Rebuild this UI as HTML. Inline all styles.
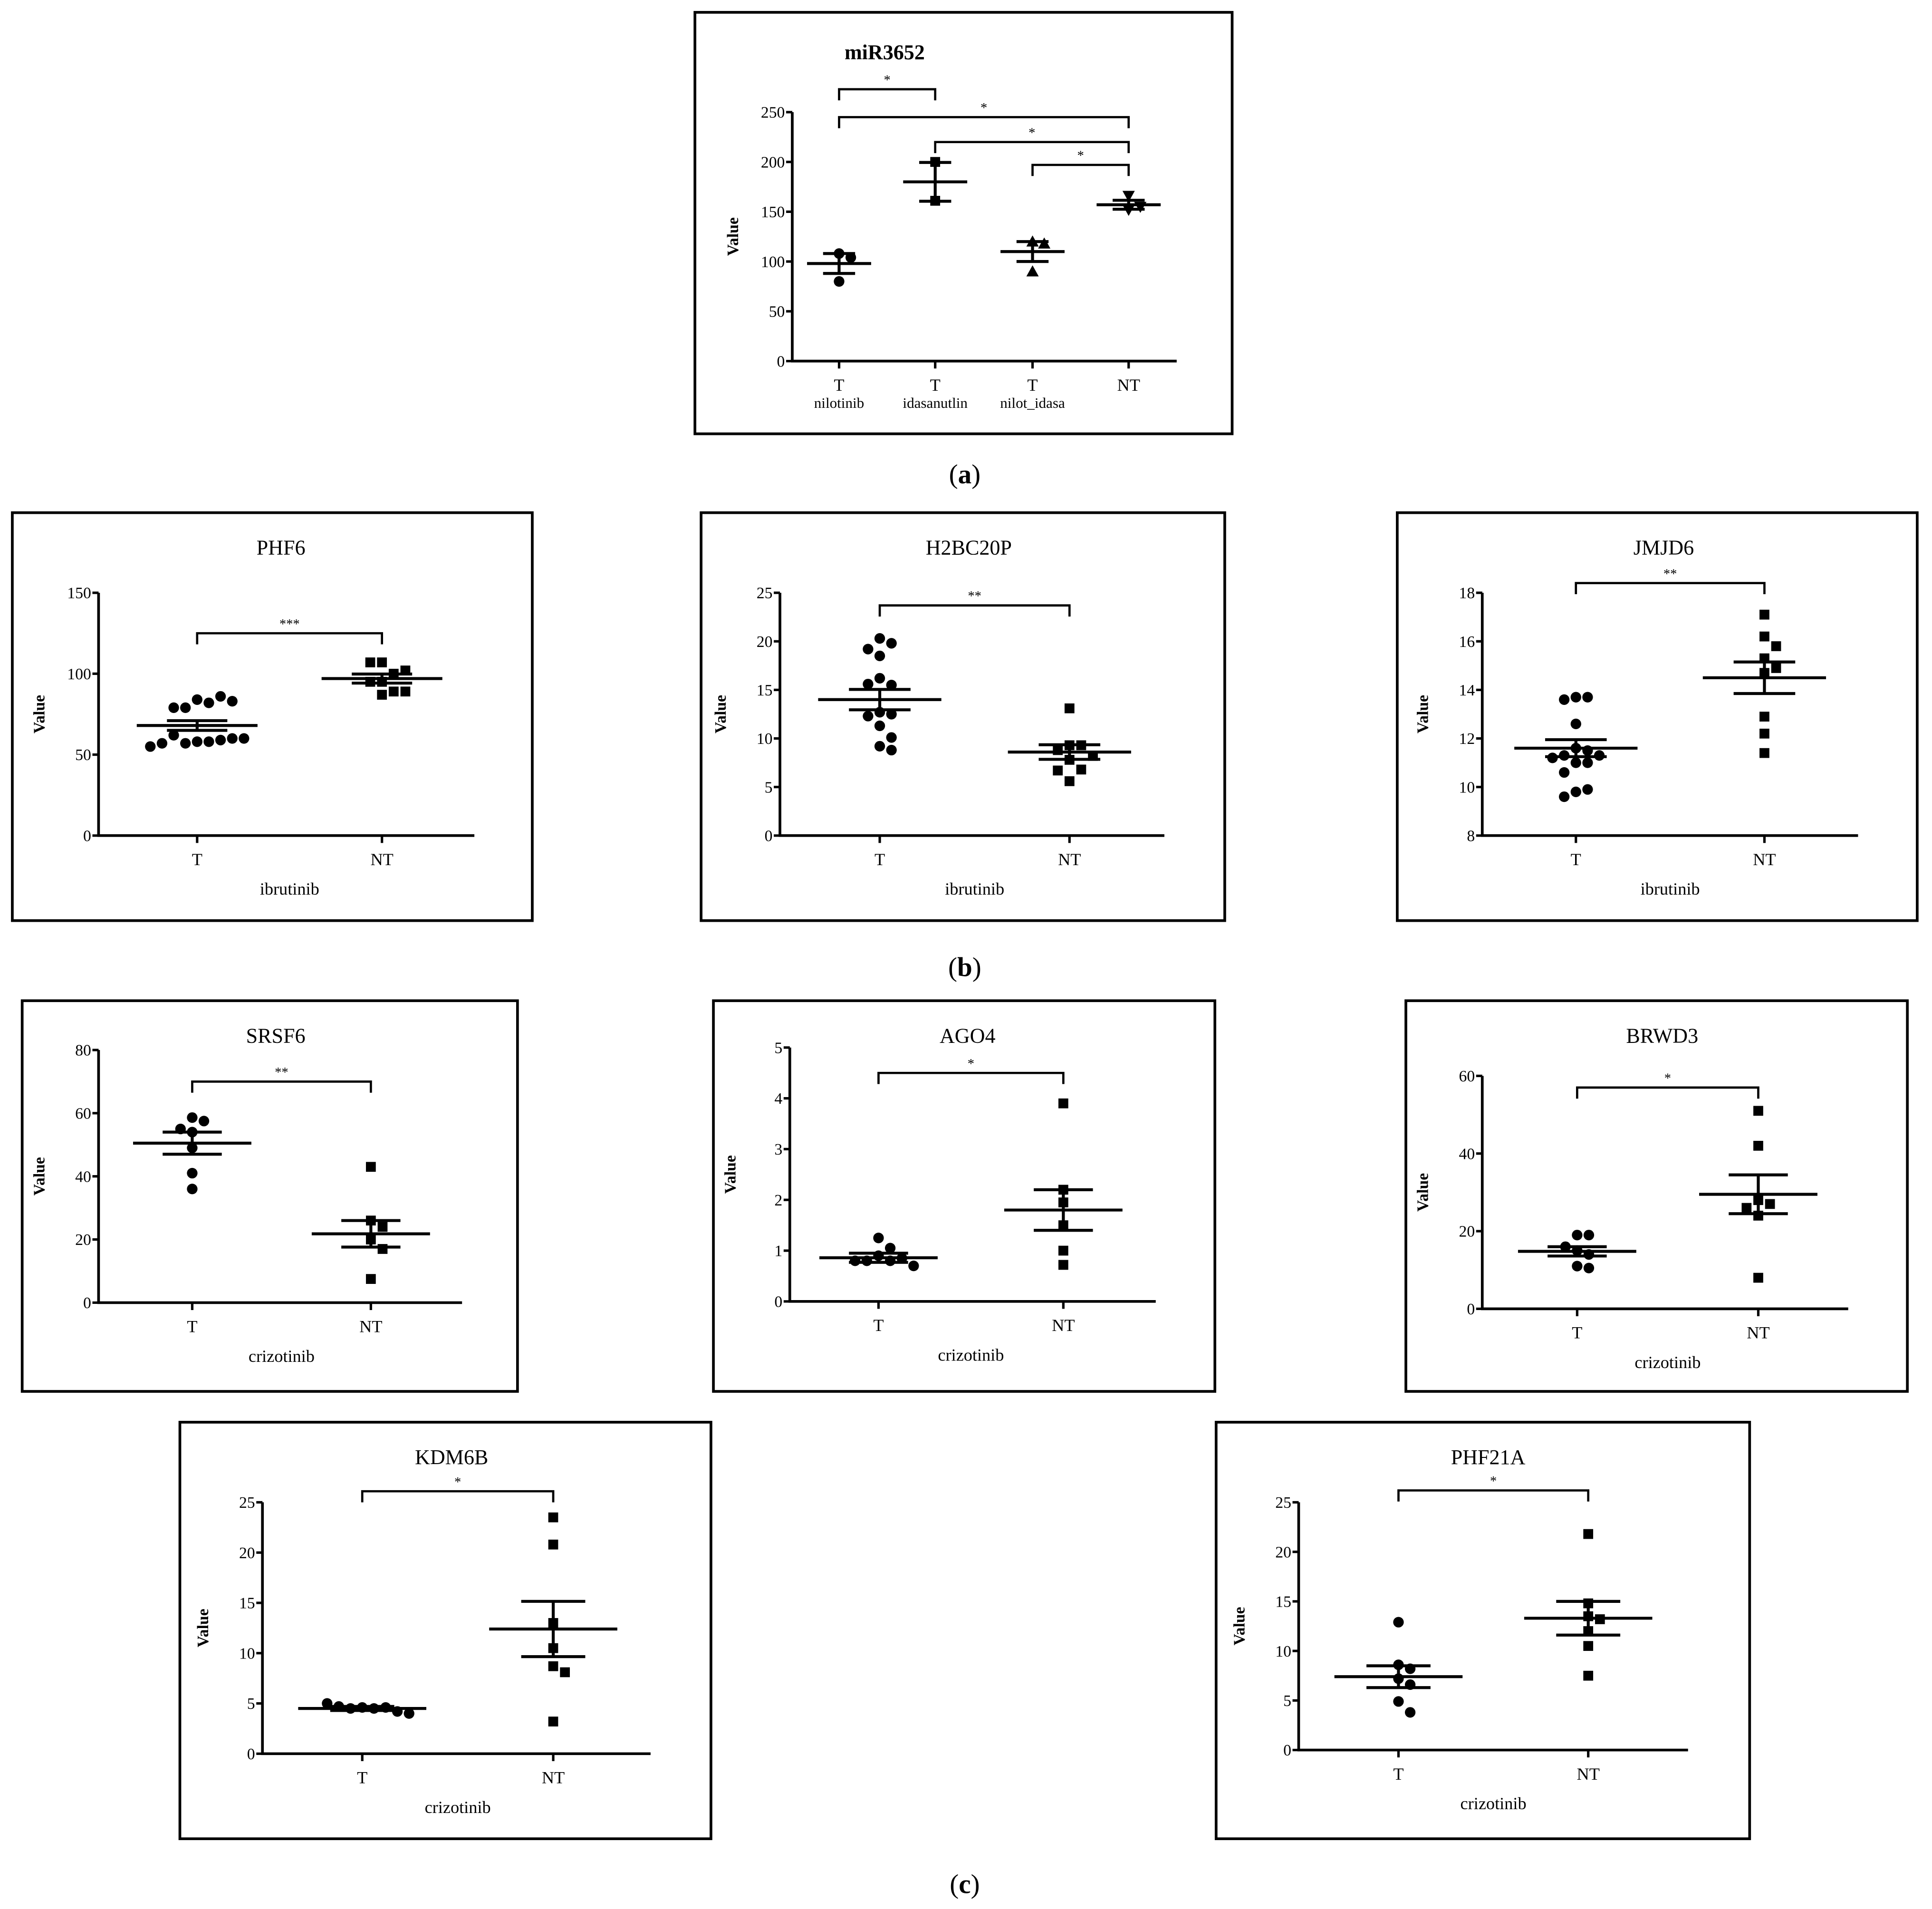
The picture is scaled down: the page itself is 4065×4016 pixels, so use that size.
<!DOCTYPE html>
<html><head><meta charset="utf-8">
<style>
html,body{margin:0;padding:0;background:#fff;}
svg{display:block;}
text{font-family:"Liberation Serif",serif;fill:#000;}
</style></head>
<body>
<svg id="fig" width="4065" height="4016" viewBox="0 0 1568 1549" preserveAspectRatio="none" xmlns="http://www.w3.org/2000/svg"></svg>
<script>
// ---- data ----
const mirCategories = ["nilotinib","idasanutlin","nilot_idasa","NT"];
const mirValues = [[108,104,80],[200,161],[120,118,90],[166,155,152]];
const mirMeans = [98,180,110,157];
const mirSem = [10,19.5,10,4.5];
const mirTicks = [0,50,100,150,200,250];

const phf6T = [84,82,79,86,79,83,58,58,57,59,62,60,57,60,55];
const phf6NT = [95,100,95,107,107,89,89,102,87];
const phf6Stats = [68,3,97,2.8];
const phf6Ticks = [0,50,100,150];

const h2bT = [20.3,19.8,19.2,18.5,16.2,15.5,15.6,12.7,12.5,12.3,11.3,10.1,9.2,8.8];
const h2bNT = [13.1,9.3,9.3,8.8,8.2,7.8,6.8,6.7,5.6];
const h2bStats = [14,1.05,8.6,0.75];
const h2bTicks = [0,5,10,15,20,25];

const jmjT = [13.7,13.7,13.6,12.6,11.6,11.5,11.3,11.3,11.2,11.0,11.0,10.6,9.8,9.9,9.6];
const jmjNT = [17.1,16.2,15.8,15.3,14.9,14.7,12.9,12.2,11.4];
const jmjStats = [11.6,0.35,14.5,0.65];
const jmjTicks = [8,10,12,14,16,18];

const srsfT = [58.6,57.5,55,54,49,41,36];
const srsfNT = [43,26,24,20,17,7.5];
const srsfStats = [50.5,3.5,21.8,4.2];
const srsfTicks = [0,20,40,60,80];

const agoT = [0.9,0.8,0.8,1.05,0.85,0.8,1.25,0.7];
const agoNT = [3.9,2.2,1.95,1.5,1.0,0.72];
const agoStats = [0.86,0.09,1.8,0.4];
const agoTicks = [0,1,2,3,4,5];

const brwT = [19,19,16,15,14,11,10.5];
const brwNT = [51,42,28,27,26,24,8];
const brwStats = [14.8,1.2,29.5,5];
const brwTicks = [0,20,40,60];

const kdmT = [4.6,4.5,4.5,4.6,4.7,4.2,5.0,4.0];
const kdmNT = [23.5,20.8,13,10.5,8.7,8.1,3.2];
const kdmStats = [4.5,0.2,12.4,2.75];
const kdmTicks = [0,5,10,15,20,25];

const phf21T = [12.9,8.6,8.2,7.2,6.6,4.9,3.8];
const phf21NT = [21.8,14.8,13.5,13.2,12.0,10.5,7.5];
const phf21Stats = [7.4,1.1,13.3,1.7];
const phf21Ticks = [0,5,10,15,20,25];

const NS="http://www.w3.org/2000/svg";
const svg=document.getElementById('fig');
function el(tag,attrs,parent,txt){const e=document.createElementNS(NS,tag);for(const k in attrs)e.setAttribute(k,attrs[k]);if(txt!==undefined)e.textContent=txt;(parent||svg).appendChild(e);return e;}
function line(g,x1,y1,x2,y2,w){return el('line',{x1,y1,x2,y2,stroke:'#000','stroke-width':w||2},g);}

function marker(g,shape,x,y){
  let m;
  if(shape==='circle') m=el('circle',{cx:x,cy:y,r:4.3},g);
  else if(shape==='square') m=el('rect',{x:x-4,y:y-4,width:8,height:8},g);
  else if(shape==='tri') m=el('polygon',{points:`${x},${y-5} ${x-5},${y+4} ${x+5},${y+4}`},g);
  else m=el('polygon',{points:`${x},${y+5} ${x-5},${y-4} ${x+5},${y-4}`},g);
  
  
}

function swarm(ys,d){
  const placed=[],xs=[];
  ys.forEach(y=>{
    for(let k=0;k<60;k++){
      const off=(k===0?0:(k%2?1:-1)*Math.ceil(k/2)*d);
      if(placed.every(p=>Math.hypot(p[0]-off,p[1]-y)>=d)){placed.push([off,y]);xs.push(off);break;}
    }
  });
  return xs;
}

function panel(cfg){
  const g=el('g',{});
  
  
  const fr=el('rect',{x:cfg.fx,y:cfg.fy,width:cfg.fw,height:cfg.fh,fill:'none',stroke:'#000','stroke-width':2.2},g);
  
  
  const t=el('text',{x:cfg.tx,y:cfg.ty,'text-anchor':'middle','font-size':17,'font-weight':cfg.boldTitle?'bold':'normal'},g,cfg.title);
  
  
  const ymin=cfg.ticks[0],ymax=cfg.ticks[cfg.ticks.length-1];
  const Y=v=>cfg.y0+(v-ymin)/(ymax-ymin)*(cfg.y1-cfg.y0);
  const ya=line(g,cfg.ax,cfg.y1,cfg.ax,cfg.y0+1,2.2);
  
  
  const xa=line(g,cfg.ax-1,cfg.y0,cfg.axEnd,cfg.y0,2.2);
  
  
  cfg.ticks.forEach(v=>{
    const y=Y(v);
    line(g,cfg.ax-5,y,cfg.ax,y,2);
    const tl=el('text',{x:cfg.ax-6,y:y+4.5,'text-anchor':'end','font-size':13},g,String(v));
    
    
  });
  const yt=el('text',{transform:`translate(${cfg.fx+cfg.vOff},${(cfg.y0+cfg.y1)/2}) rotate(-90)`,'text-anchor':'middle','font-size':13,'font-weight':'bold'},g,'Value');
  
  
  cfg.groups.forEach((grp,i)=>{
    const cx=cfg.cx[i];
    line(g,cx,cfg.y0,cx,cfg.y0+6,2);
    const xl=el('text',{x:cx,y:cfg.y0+24,'text-anchor':'middle','font-size':14},g,grp.label);
    
    
    if(grp.sub){const sl=el('text',{x:cx,y:cfg.y0+38,'text-anchor':'middle','font-size':12},g,grp.sub);
      
      }
    const ys=grp.vals.map(Y);
    const xs=swarm(ys,9.5);
    ys.forEach((y,j)=>marker(g,grp.shape,cx+xs[j],y));
    const ml=line(g,cx-cfg.mw,Y(grp.mean),cx+cfg.mw,Y(grp.mean),2.4);
    
    
    const hi=Y(grp.mean+grp.sem),lo=Y(grp.mean-grp.sem),cw=cfg.mw*0.5;
    line(g,cx,hi,cx,lo,2.4);
    line(g,cx-cw,hi,cx+cw,hi,2.4);
    line(g,cx-cw,lo,cx+cw,lo,2.4);
  });
  (cfg.brackets||[]).forEach(b=>{
    const y=Y(b.v),xa_=cfg.cx[b.a],xb=cfg.cx[b.b];
    const p=el('path',{d:`M${xa_},${y+9} V${y} H${xb} V${y+9}`,fill:'none',stroke:'#000','stroke-width':1.8},g);
    
    
    const s=el('text',{x:(xa_+xb)/2,y:y-4,'text-anchor':'middle','font-size':11},g,b.s);
    
    
  });
  if(cfg.xtitle){const xt=el('text',{x:(cfg.cx[0]+cfg.cx[cfg.cx.length-1])/2,y:cfg.y0+48,'text-anchor':'middle','font-size':14},g,cfg.xtitle);
    
    }
}

function two(name,title,f,ax,axEnd,y0,y1,cx,ticks,T,NT,st,bv,stars,tshape,ntshape,mw,xtitle){
  panel({name,title,fx:f[0],fy:f[1],fw:f[2]-f[0],fh:f[3]-f[1],tx:(cx[0]+cx[1])/2+((f[0]+f[2])/2-(cx[0]+cx[1])/2)*0.5,ty:f[1]+34,
    ax,axEnd,y0,y1,cx,ticks,vOff:ax-f[0]-44,mw,xtitle,
    groups:[{label:'T',vals:T,mean:st[0],sem:st[1],shape:tshape},{label:'NT',vals:NT,mean:st[2],sem:st[3],shape:ntshape}],
    brackets:[{a:0,b:1,v:bv,s:stars}]});
}

panel({name:'mir3652',title:'miR3652',boldTitle:true,fx:564,fy:10,fw:436,fh:342,tx:718,ty:48,ax:643,axEnd:955,y0:293,y1:91,
  cx:[681,759,838,916],ticks:mirTicks,vOff:35,mw:26,
  groups:mirCategories.map((c,i)=>({label:i<3?'T':'NT',sub:i<3?c:null,vals:mirValues[i],mean:mirMeans[i],sem:mirSem[i],shape:['circle','square','tri','itri'][i]})),
  brackets:[{a:0,b:1,v:273,s:'*'},{a:0,b:3,v:245,s:'*'},{a:1,b:3,v:220,s:'*'},{a:2,b:3,v:197,s:'*'}]});

two('phf6','PHF6',[10,416,432,747],80,385,678,481,[160,310],phf6Ticks,phf6T,phf6NT,phf6Stats,125,'***','circle','square',49,'ibrutinib');
two('h2bc20p','H2BC20P',[569,416,994,747],633,945,678,481,[714,868],h2bTicks,h2bT,h2bNT,h2bStats,23.7,'**','circle','square',50,'ibrutinib');
two('jmjd6','JMJD6',[1134,416,1556,747],1203,1508,678,481,[1279,1432],jmjTicks,jmjT,jmjNT,jmjStats,18.4,'**','circle','square',50,'ibrutinib');
two('srsf6','SRSF6',[18,812,420,1129],80,375,1057,852,[156,301],srsfTicks,srsfT,srsfNT,srsfStats,70,'**','circle','square',48,'crizotinib');
two('ago4','AGO4',[579,812,986,1129],641,938,1056,850,[713,863],agoTicks,agoT,agoNT,agoStats,4.5,'*','circle','square',48,'crizotinib');
two('brwd3','BRWD3',[1141,812,1548,1129],1203,1500,1062,873,[1280,1427],brwTicks,brwT,brwNT,brwStats,57,'*','circle','square',48,'crizotinib');
two('kdm6b','KDM6B',[146,1154,577,1492],213,528,1423,1219,[294,449],kdmTicks,kdmT,kdmNT,kdmStats,26.1,'*','circle','square',52,'crizotinib');
two('phf21a','PHF21A',[987,1154,1420,1492],1054,1370,1420,1219,[1135,1289],phf21Ticks,phf21T,phf21NT,phf21Stats,26.2,'*','circle','square',52,'crizotinib');

[['(a)',385],['(b)',785],['(c)',1529]].forEach(([s,y])=>{
  const t=el('text',{x:783,y:y+7,'text-anchor':'middle','font-size':22},svg,'');
  
  
  t.appendChild(document.createTextNode('('));
  el('tspan',{'font-weight':'bold'},t,s[1]);
  t.appendChild(document.createTextNode(')'));
});
</script>
</body></html>
